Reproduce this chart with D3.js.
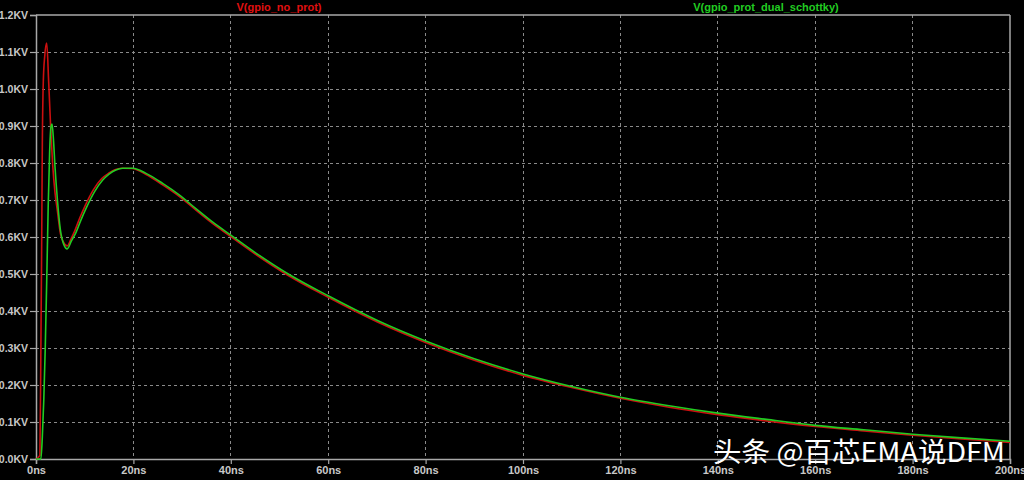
<!DOCTYPE html>
<html><head><meta charset="utf-8">
<script src="https://cdn.jsdelivr.net/npm/d3@7"></script>
<style>html,body{margin:0;padding:0;background:#000;}svg{display:block;}</style>
</head><body>
<svg id="chart" width="1024" height="480"></svg>
<script>
// time in ns, voltage in kV
const xTicks = [0,20,40,60,80,100,120,140,160,180,200];
const xTickLabels = ["0ns","20ns","40ns","60ns","80ns","100ns","120ns","140ns","160ns","180ns","200ns"];
const yTicks = [0,0.1,0.2,0.3,0.4,0.5,0.6,0.7,0.8,0.9,1.0,1.1,1.2];
const yTickLabels = ["0.0KV","0.1KV","0.2KV","0.3KV","0.4KV","0.5KV","0.6KV","0.7KV","0.8KV","0.9KV","1.0KV","1.1KV","1.2KV"];
const seriesNames = ["V(gpio_no_prot)","V(gpio_prot_dual_schottky)"];

const noProtT = [0,0.8,1.0,1.15,1.3,1.5,1.8,2.2,2.6,3.0,3.4,3.9,4.4,5.0,5.7,6.4,7.2,8.0,9.0,10.1,11.8,13.5,15,16.2,17.6,19.7,22.6,26,29.4,32.9,36.3,40,45,51.8,60,70,80,90,100,110,120,130,140,150,160,170,180,190,200];
const noProtV = [0,0.01,0.3,0.55,0.85,1.02,1.09,1.124,1.02,0.9,0.8,0.72,0.67,0.61,0.585,0.576,0.595,0.618,0.652,0.685,0.728,0.758,0.773,0.782,0.786,0.785,0.769,0.741,0.71,0.672,0.636,0.601,0.554,0.496,0.437,0.371,0.315,0.267,0.226,0.193,0.164,0.14,0.12,0.103,0.088,0.076,0.064,0.054,0.045];

const protT = [0,1.0,1.3,1.6,1.9,2.2,2.5,2.8,3.05,3.3,3.6,3.9,4.4,5.0,5.7,6.4,7.3,8.2,9.2,10.3,12,13.7,15,16.4,17.8,19.9,22.6,26,29.4,32.9,36.3,40,45,51.8,60,70,80,90,100,110,120,130,140,150,160,170,180,190,200];
const protV = [0,0.0,0.06,0.16,0.3,0.48,0.68,0.83,0.895,0.905,0.86,0.79,0.7,0.62,0.58,0.568,0.59,0.612,0.645,0.678,0.722,0.754,0.77,0.781,0.786,0.786,0.772,0.745,0.714,0.676,0.64,0.605,0.558,0.5,0.441,0.375,0.319,0.271,0.23,0.196,0.167,0.144,0.124,0.107,0.091,0.079,0.067,0.057,0.048];

(function(){
const svg = d3.select("#chart");
const pL = 36, pR = 1010, pT = 15, pB = 459;
const x = d3.scaleLinear().domain([0,200]).range([pL,pR]);
const y = d3.scaleLinear().domain([0,1.2]).range([pB,pT]);

svg.append("rect").attr("width",1024).attr("height",480).attr("fill","#000");

const axisColor = "#a8a8a8";
const gridColor = "#8a8a8a";
const textColor = "#c8c8c8";

// grid
svg.append("g").selectAll("line").data(xTicks.slice(1,-1)).join("line")
  .attr("x1",d=>x(d)).attr("x2",d=>x(d)).attr("y1",pT).attr("y2",pB)
  .attr("stroke",gridColor).attr("stroke-width",1).attr("stroke-dasharray","3,3")
  .attr("shape-rendering","crispEdges");
svg.append("g").selectAll("line").data(yTicks.slice(1,-1)).join("line")
  .attr("x1",pL).attr("x2",pR).attr("y1",d=>y(d)).attr("y2",d=>y(d))
  .attr("stroke",gridColor).attr("stroke-width",1).attr("stroke-dasharray","3,3")
  .attr("shape-rendering","crispEdges");

// axes
const yAxis = d3.axisLeft(y).tickValues(yTicks).tickFormat((d,i)=>yTickLabels[i]).tickSize(6).tickPadding(2);
const gy = svg.append("g").attr("transform",`translate(${pL},0)`).call(yAxis);
const xAxis = d3.axisBottom(x).tickValues(xTicks).tickFormat((d,i)=>xTickLabels[i]).tickSize(5).tickPadding(2);
const gx = svg.append("g").attr("transform",`translate(0,${pB})`).call(xAxis);
[gx,gy].forEach(g=>{
  g.select(".domain").attr("stroke",axisColor).attr("stroke-width",1.5);
  g.selectAll(".tick line").attr("stroke",axisColor).attr("stroke-width",1.2);
  g.selectAll(".tick text").attr("fill",textColor).attr("font-family","Liberation Sans, Arial, sans-serif")
    .attr("font-size",11).attr("font-weight","bold");
});
gy.selectAll(".tick text").attr("font-size",10.5);
// frame top/right
svg.append("line").attr("x1",pL).attr("x2",pR).attr("y1",pT).attr("y2",pT).attr("stroke",axisColor).attr("stroke-width",1.5);
svg.append("line").attr("x1",pR).attr("x2",pR).attr("y1",pT).attr("y2",pB).attr("stroke",axisColor).attr("stroke-width",1.5);

// series
const line = d3.line().x(d=>x(d[0])).y(d=>y(d[1])).curve(d3.curveMonotoneX);
const redData = noProtT.map((t,i)=>[t,noProtV[i]]);
const greenData = protT.map((t,i)=>[t,protV[i]]);
svg.append("path").datum(redData).attr("d",line).attr("fill","none").attr("stroke","#cc1010").attr("stroke-width",1.6);
svg.append("path").datum(greenData).attr("d",line).attr("fill","none").attr("stroke","#22cc22").attr("stroke-width",1.6);

// legend labels
svg.append("text").attr("x",279).attr("y",11).attr("text-anchor","middle")
  .attr("fill","#e01010").attr("font-family","Liberation Sans, Arial, sans-serif").attr("font-size",11).attr("font-weight","bold")
  .text(seriesNames[0]);
svg.append("text").attr("x",766).attr("y",11).attr("text-anchor","middle")
  .attr("fill","#22cc22").attr("font-family","Liberation Sans, Arial, sans-serif").attr("font-size",11).attr("font-weight","bold")
  .text(seriesNames[1]);

// watermark
svg.append("text").attr("x",713).attr("y",462).attr("textLength",292).attr("lengthAdjust","spacingAndGlyphs")
  .attr("fill","#ffffff").attr("font-family","Noto Sans CJK SC, sans-serif").attr("font-size",27)
  .text("头条 @百芯EMA说DFM");
})();
</script>
</body></html>
